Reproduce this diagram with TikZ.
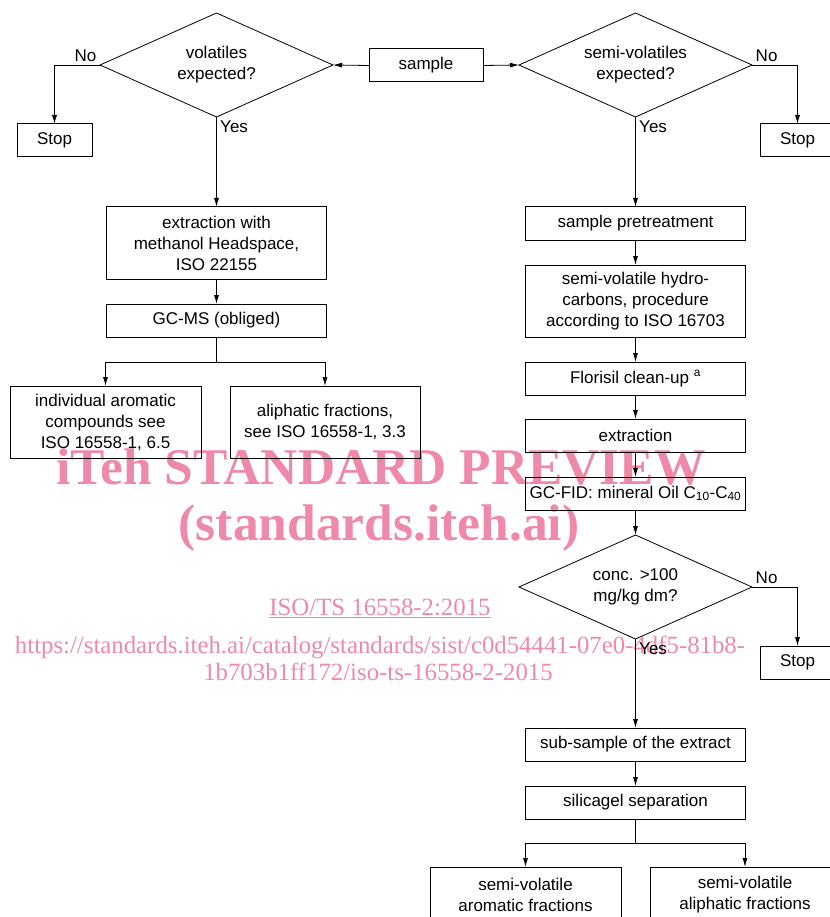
\documentclass[tikz,border=0pt]{standalone}
\usepackage{fontspec}
\setmainfont{Liberation Sans}
\newfontfamily\wmfont{Liberation Serif}
\usepackage{xcolor}
\usepackage{tikz}
\usetikzlibrary{shapes.geometric}
\usetikzlibrary{arrows.meta}
\usetikzlibrary{positioning}
\definecolor{wmpink}{RGB}{238,138,168}

\begin{document}
\begin{tikzpicture}[x=1pt,y=-1pt,node distance=25pt,
          every node/.style={font=\fontsize{17}{21}\selectfont},
          box/.style={draw,line width=1pt,align=center,minimum height=33pt,inner sep=3pt,outer sep=0pt},
          colbox/.style={box,minimum width=220pt},
          tallbox/.style={minimum height=72pt},
          decision/.style={draw,diamond,line width=0.8pt,align=center,inner sep=0pt,outer sep=0pt,
            aspect=2.24,minimum width=233pt,minimum height=104pt},
          flow/.style={line width=0.8pt,->,>={Latex[length=9pt,width=5pt]}},
          wmbig/.style={anchor=base,text=wmpink,font=\wmfont\bfseries\fontsize{51.5}{52}\selectfont},
          wmsmall/.style={anchor=base,text=wmpink,font=\wmfont\fontsize{24.8}{25}\selectfont}]
          \useasboundingbox (0,0) rectangle (829,917);
          % preview watermark
          \node[wmbig](wmA) at (381,484){iTeh STANDARD PREVIEW};
          \node[wmbig](wmB) at (379,540){(standards.iteh.ai)};
          \node[wmsmall](wmC) at (380,615){\underline{ISO/TS 16558-2:2015}};
          \node[wmsmall](wmD) at (380,653){https://standards.iteh.ai/catalog/standards/sist/c0d54441-07e0-4df5-81b8-};
          \node[wmsmall](wmE) at (378,680){1b703b1ff172/iso-ts-16558-2-2015};
          % top row
          \node[box,minimum width=114pt](sample) at (426,65.5){sample};
          \node[decision](voldec) at (216.5,65){volatiles\\expected?};
          \node[decision](semidec) at (635.5,65){semi-volatiles\\expected?};
          \node[box,minimum width=75pt](stopA) at (54.5,140.5){Stop};
          \node[box,minimum width=75pt](stopB) at (797.5,140.5){Stop};
          % volatiles column
          \node[colbox,tallbox,below=90pt of voldec](extrA){extraction with\\methanol Headspace,\\ISO 22155};
          \node[colbox,below=of extrA](gcms){GC-MS (obliged)};
          \node[box,tallbox,minimum width=191pt](arom) at (105.5,422){individual aromatic\\compounds see\\ISO 16558-1, 6.5};
          \node[box,tallbox,minimum width=190pt](aliph) at (325,422){aliphatic fractions,\\see ISO 16558-1, 3.3};
          % semi-volatiles column
          \node[colbox,below=90pt of semidec](pretreat){sample pretreatment};
          \node[colbox,tallbox,below=of pretreat](hydro){semi-volatile hydro-\\carbons, procedure\\according to ISO 16703};
          \node[colbox,below=of hydro](florisil){Florisil clean-up \textsuperscript{a}};
          \node[colbox,below=24pt of florisil](extrB){extraction};
          \node[colbox,below=of extrB](gcfid){GC-FID: mineral Oil C\textsubscript{10}-C\textsubscript{40}};
          \node[decision,below=of gcfid](conc){conc. >100\\mg/kg dm?};
          \node[box,minimum width=75pt](stopC) at (797.5,662.5){Stop};
          \node[colbox,below=89pt of conc](subs){sub-sample of the extract};
          \node[colbox,below=of subs](silica){silicagel separation};
          \node[box,minimum width=191pt,minimum height=56pt](semiarom) at (525.5,895){semi-volatile\\aromatic fractions};
          \node[box,minimum width=190pt,minimum height=56pt](semialiph) at (745,895){semi-volatile\\aliphatic fractions};
          % connectors
          \draw[flow](sample.west)--(voldec.east);
          \draw[flow](sample.east)--(semidec.west);
          \draw[flow](voldec.west)node[above left]{No}-|(stopA.north);
          \draw[flow](semidec.east)node[above right]{No}-|(stopB.north);
          \draw[flow](voldec.south)node[below right]{Yes}--(extrA.north);
          \draw[flow](semidec.south)node[below right]{Yes}--(pretreat.north);
          \draw[flow](extrA)--(gcms);
          \draw[line width=0.8pt](gcms.south)--++(0,25)coordinate(splitA);
          \draw[flow](splitA)-|(arom.north);
          \draw[flow](splitA)-|(aliph.north);
          \draw[flow](pretreat)--(hydro);
          \draw[flow](hydro)--(florisil);
          \draw[flow](florisil)--(extrB);
          \draw[flow](extrB)--(gcfid);
          \draw[flow](gcfid)--(conc.north);
          \draw[flow](conc.east)node[above right]{No}-|(stopC.north);
          \draw[flow](conc.south)node[below right]{Yes}--(subs.north);
          \draw[flow](subs)--(silica);
          \draw[line width=0.8pt](silica.south)--++(0,24)coordinate(splitB);
          \draw[flow](splitB)-|(semiarom.north);
          \draw[flow](splitB)-|(semialiph.north);
        \end{tikzpicture}
\end{document}
